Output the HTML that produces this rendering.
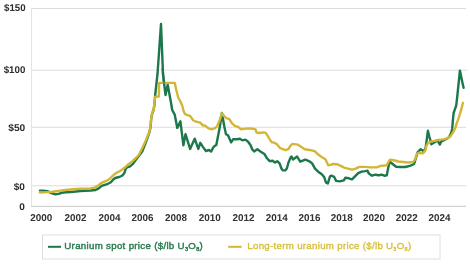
<!DOCTYPE html>
<html><head><meta charset="utf-8"><style>
html,body{margin:0;padding:0;background:#fff;width:470px;height:264px;overflow:hidden}
svg{position:absolute;left:0;top:0;will-change:transform}
text{font-family:"Liberation Sans",sans-serif}
</style></head><body>
<svg width="470" height="264" viewBox="0 0 470 264">
<g stroke="#dcdcdc" stroke-width="1" fill="none">
<line x1="32" y1="8.5" x2="466" y2="8.5"/>
<line x1="32" y1="70.2" x2="467.5" y2="70.2"/>
<line x1="32" y1="127.3" x2="466" y2="127.3"/>
<line x1="32" y1="185.8" x2="466" y2="185.8"/>
</g>
<line x1="31.6" y1="8" x2="31.6" y2="206" stroke="#e2e2e2" stroke-width="1"/>
<line x1="31.2" y1="206.3" x2="466" y2="206.3" stroke="#c6c6c6" stroke-width="1"/>
<g font-size="9.8" fill="#2e2e2e" font-weight="bold" text-rendering="geometricPrecision" text-anchor="end">
<text x="25.6" y="11.2" textLength="21.6" lengthAdjust="spacingAndGlyphs">$150</text>
<text x="25.3" y="72.9" textLength="21.6" lengthAdjust="spacingAndGlyphs">$100</text>
<text x="25.3" y="130.8" textLength="17" lengthAdjust="spacingAndGlyphs">$50</text>
<text x="24.9" y="189.6" textLength="11.2" lengthAdjust="spacingAndGlyphs">$0</text>
<text x="24.9" y="209.8" textLength="5.6" lengthAdjust="spacingAndGlyphs">0</text>
</g>
<g font-size="9.9" fill="#333" font-weight="bold" text-rendering="geometricPrecision" text-anchor="middle">
<text x="41.2" y="221.0" textLength="22" lengthAdjust="spacingAndGlyphs">2000</text>
<text x="75.4" y="221.0" textLength="22" lengthAdjust="spacingAndGlyphs">2002</text>
<text x="109.4" y="221.0" textLength="22" lengthAdjust="spacingAndGlyphs">2004</text>
<text x="142.4" y="221.0" textLength="22" lengthAdjust="spacingAndGlyphs">2006</text>
<text x="176.1" y="221.0" textLength="22" lengthAdjust="spacingAndGlyphs">2008</text>
<text x="209.7" y="221.0" textLength="22" lengthAdjust="spacingAndGlyphs">2010</text>
<text x="243.5" y="221.0" textLength="22" lengthAdjust="spacingAndGlyphs">2012</text>
<text x="276.7" y="221.0" textLength="22" lengthAdjust="spacingAndGlyphs">2014</text>
<text x="309.5" y="221.0" textLength="22" lengthAdjust="spacingAndGlyphs">2016</text>
<text x="341.8" y="221.0" textLength="22" lengthAdjust="spacingAndGlyphs">2018</text>
<text x="374" y="221.0" textLength="22" lengthAdjust="spacingAndGlyphs">2020</text>
<text x="406.8" y="221.0" textLength="22" lengthAdjust="spacingAndGlyphs">2022</text>
<text x="439.4" y="221.0" textLength="22" lengthAdjust="spacingAndGlyphs">2024</text>
</g>
<polyline points="39.9,190.6 43.2,190.6 47.3,191.1 51.4,193.1 55.5,194.4 58.5,193.9 61.6,192.8 65.7,192.3 70.8,192.0 75.9,191.5 80.2,191.0 90.5,190.5 95.6,190.0 98.7,188.4 101.7,185.9 104.8,184.8 107.9,183.8 110.9,182.3 113.0,179.7 115.2,178.0 119.3,177.0 122.4,175.5 124.4,172.9 125.5,169.3 127.0,167.3 130.1,166.3 132.6,164.2 135.7,160.1 138.8,156.0 142.2,151.6 145.4,143.6 147.8,136.8 149.5,132.0 150.5,127.6 151.3,118.0 152.1,114.0 153.8,109.0 154.5,104.0 155.1,95.8 156.6,82.0 157.5,74.0 161.0,24.0 163.0,74.0 165.5,95.0 167.7,84.8 170.7,101.0 172.2,110.0 174.7,114.6 177.3,127.9 180.4,121.3 183.4,145.4 185.5,134.1 190.1,148.9 194.7,138.7 198.3,148.9 200.3,142.8 202.9,146.9 205.9,151.0 209.0,150.0 211.1,151.6 213.2,147.5 214.7,145.9 216.3,144.9 217.8,137.2 219.8,127.0 221.9,113.0 224.4,127.0 226.0,134.2 228.0,135.2 231.1,142.4 233.1,139.3 236.7,139.3 239.8,138.8 242.4,140.3 245.4,139.6 248.1,141.7 250.6,145.2 252.2,149.3 254.2,151.4 257.3,149.3 260.4,151.4 264.4,153.9 267.0,158.3 269.6,161.1 272.7,160.7 275.0,162.6 277.2,161.2 279.7,163.7 281.3,168.3 282.8,170.4 285.4,170.4 286.9,168.3 288.4,162.7 290.5,157.6 291.5,156.5 293.0,159.6 297.1,156.5 300.2,161.7 302.8,160.6 305.3,159.6 308.9,161.1 312.0,163.2 315.0,168.6 318.2,171.7 321.8,174.2 324.3,177.3 325.9,182.4 327.9,183.4 330.0,176.3 331.5,175.7 334.1,176.8 336.1,180.9 339.7,181.4 343.8,180.4 345.3,177.8 348.9,178.3 352.0,179.3 355.0,176.3 358.2,173.1 361.8,171.6 365.4,171.1 367.4,170.6 368.9,173.6 372.0,175.7 375.6,174.7 378.7,175.2 381.7,174.7 384.3,175.7 386.8,175.2 388.9,164.3 390.4,162.3 393.0,164.3 396.1,166.8 400.0,167.0 405.4,167.0 410.5,165.6 414.1,164.0 416.1,157.4 417.6,152.3 420.7,149.2 423.8,151.3 425.6,148.0 426.5,141.5 427.9,130.8 429.3,136.5 430.6,140.8 431.3,144.2 434.3,142.5 437.4,140.5 439.9,144.6 440.9,142.0 443.0,140.6 446.4,139.0 449.0,137.2 451.1,133.0 452.2,128.7 452.7,122.4 453.3,116.0 453.6,113.0 454.7,109.8 456.2,105.6 457.3,96.1 459.9,70.6 461.9,80.3 463.6,87.8" fill="none" stroke="#1c774b" stroke-width="2.4" stroke-linejoin="round" stroke-linecap="round"/>
<polyline points="39.9,192.5 43.2,192.4 48.3,192.1 52.4,191.8 56.5,191.2 60.6,190.6 65.7,190.0 70.8,189.5 80.2,188.7 90.5,188.4 94.6,187.6 97.6,185.9 100.7,183.3 103.8,181.8 107.9,180.2 110.9,177.7 114.0,174.6 117.0,172.5 120.4,170.9 124.4,167.8 128.5,164.2 132.6,161.1 135.7,158.1 138.8,155.0 142.2,148.2 144.9,142.6 147.5,136.2 149.3,132.0 150.3,127.6 151.2,118.0 152.0,114.0 153.7,109.0 154.4,104.0 154.8,99.5 155.2,96.8 158.9,96.6 159.1,82.9 174.8,82.9 176.2,89.5 178.2,97.5 180.2,101.0 182.3,105.8 183.6,111.2 185.0,114.1 190.3,116.1 193.1,120.2 196.1,121.7 200.2,122.7 202.8,125.3 205.4,125.8 208.4,128.4 211.5,129.4 214.6,128.4 217.1,126.3 219.7,120.2 221.8,113.3 223.8,115.6 226.3,118.1 229.4,119.2 232.0,123.3 235.0,125.8 238.1,126.8 241.1,129.3 244.2,128.9 248.3,128.4 252.4,128.7 255.5,129.4 256.5,132.5 259.6,133.0 263.7,132.4 265.7,132.9 267.8,136.0 269.6,139.1 271.6,142.2 274.1,142.6 277.2,144.6 280.2,148.2 285.4,150.2 288.4,149.2 290.5,145.6 292.5,143.9 297.6,144.6 301.7,147.2 304.8,149.2 310.9,150.2 315.0,151.4 318.2,154.6 321.3,156.7 325.4,159.2 328.4,165.4 330.5,164.8 333.0,164.0 337.0,164.2 340.7,165.9 344.8,167.9 348.9,168.9 352.0,169.7 355.0,168.9 359.2,166.9 365.4,166.9 370.5,167.4 376.6,167.4 380.7,165.9 386.8,165.3 389.4,160.2 390.9,159.7 395.0,160.5 398.2,161.5 403.3,162.0 408.4,162.5 413.0,162.0 415.1,159.4 416.6,154.3 418.7,152.8 422.8,153.3 425.3,150.7 426.3,146.1 427.9,143.1 431.0,141.6 434.3,140.8 437.7,140.0 441.0,139.6 443.2,139.4 447.4,138.3 450.6,136.2 453.3,131.9 455.4,127.7 457.0,122.4 458.5,118.6 459.9,114.0 461.5,108.7 462.9,102.8" fill="none" stroke="#d3b636" stroke-width="2.4" stroke-linejoin="round" stroke-linecap="round"/>
<polyline points="162.6,68 163,74 164.2,84" fill="none" stroke="#1c774b" stroke-opacity="0.6" stroke-width="2.4" stroke-linecap="butt"/>
<rect x="42.5" y="235" width="397.5" height="24" fill="none" stroke="#dedede" stroke-width="1"/>
<line x1="48" y1="246.8" x2="61" y2="246.8" stroke="#1c774b" stroke-width="2"/>
<line x1="228.2" y1="246.8" x2="241.6" y2="246.8" stroke="#d3b636" stroke-width="2"/>
<text x="64.3" y="249.4" font-size="9.7" fill="#2a7c50" stroke="#2a7c50" stroke-width="0.45" letter-spacing="0.31">Uranium spot price ($/lb U<tspan font-size="5.5" dy="1.8">3</tspan><tspan dy="-1.8">O</tspan><tspan font-size="5.5" dy="1.8">8</tspan><tspan dy="-1.8">)</tspan></text>
<text x="247.3" y="249.4" font-size="9.7" fill="#d6bf3c" stroke="#d6bf3c" stroke-width="0.35" letter-spacing="0.3">Long-term uranium price ($/lb U<tspan font-size="5.5" dy="1.8">3</tspan><tspan dy="-1.8">O</tspan><tspan font-size="5.5" dy="1.8">8</tspan><tspan dy="-1.8">)</tspan></text>
</svg>
</body></html>
